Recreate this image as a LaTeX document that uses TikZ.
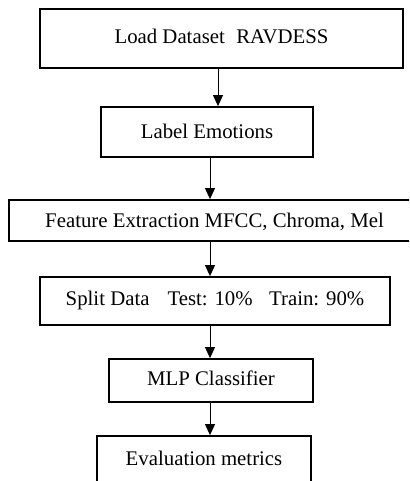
\documentclass[tikz,border=0pt]{standalone}
\usepackage{fontspec}
\setmainfont{Liberation Serif}
\usetikzlibrary{arrows.meta}
\begin{document}
\begin{tikzpicture}[x=1pt,y=-1pt,
  stepbox/.style={draw=black,line width=1.8pt,fill=white,inner sep=0pt,
    text height=14pt,font=\fontsize{20.8}{24}\selectfont},
  arr/.style={line width=1pt,-{Triangle[width=10pt,length=11pt]}}]
\useasboundingbox (0,0) rectangle (409,481);
\clip (0,0) rectangle (409,481);
\node[stepbox,minimum width=363pt,minimum height=59pt,text depth=3pt] (b1) at (221.5,38.5) {Load Dataset\hspace{11.5pt}RAVDESS};
\node[stepbox,minimum width=212pt,minimum height=50pt,text depth=0pt] (b2) at (207,132) {Label Emotions};
\node[stepbox,minimum width=411pt,minimum height=41pt,text depth=0pt] (b3) at (214.5,220.5) {Feature Extraction MFCC, Chroma, Mel};
\node[stepbox,minimum width=350pt,minimum height=48pt,text depth=4.6pt] (b4) at (215,301) {Split Data\hspace{18pt}Test: 10\%\hspace{16.4pt}Train: 90\%};
\node[stepbox,minimum width=204pt,minimum height=43pt,text depth=3.6pt] (b5) at (211,380.5) {MLP Classifier};
\node[stepbox,minimum width=214pt,minimum height=50pt,text depth=6pt] (b6) at (204,461) {Evaluation metrics};
\coordinate (c1) at (218,0);
\coordinate (c2) at (210,0);
\draw[arr] (b1.south -| c1) -- (b2.north -| c1);
\draw[arr] (b2.south -| c2) -- (b3.north -| c2);
\draw[arr] (b3.south -| c2) -- (b4.north -| c2);
\draw[arr] (b4.south -| c2) -- (b5.north -| c2);
\draw[arr] (b5.south -| c2) -- (b6.north -| c2);
\end{tikzpicture}
\end{document}
